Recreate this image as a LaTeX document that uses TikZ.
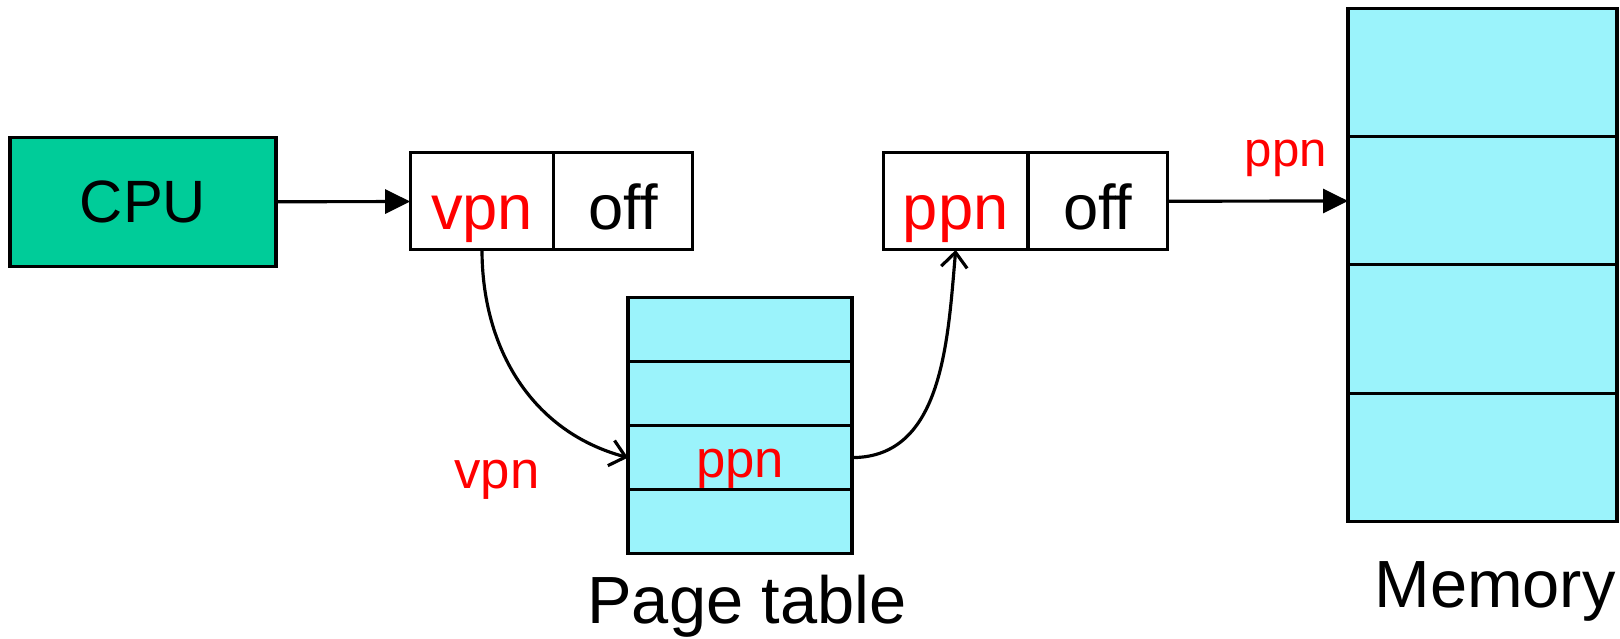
\documentclass[tikz,border=0pt]{standalone}
\usepackage{fontspec}
\setmainfont{Liberation Sans}
\usetikzlibrary{arrows.meta,positioning}

\definecolor{cpugreen}{RGB}{0,204,153}
\definecolor{memcyan}{RGB}{155,243,251}

\begin{document}
\begin{tikzpicture}[line width=0.9pt,
    cell/.style={draw,outer sep=0pt,minimum height=0.97cm,inner sep=0pt,
                 text height=0.6cm,text depth=0.04cm,font=\fontsize{18}{20}\selectfont},
    ptrow/.style={draw,outer sep=0pt,fill=memcyan,minimum width=2.24cm,minimum height=0.64cm,inner sep=0pt},
    memrow/.style={draw,outer sep=0pt,fill=memcyan,minimum width=2.69cm,minimum height=1.284cm,inner sep=0pt},
    tag/.style={text=red,font=\fontsize{15}{17}\selectfont},
    title/.style={font=\fontsize{19}{23}\selectfont},
    bus/.style={-{Triangle[length=0.25cm,width=0.24cm]}},
    lookup/.style={-{Straight Barb[length=0.15cm,width=0.26cm]}}]

  \useasboundingbox (0,0) rectangle (16.2,6.38);

  \node[draw,fill=cpugreen,minimum width=2.66cm,minimum height=1.29cm,
        font=\fontsize{17}{20}\selectfont] (cpu) at (1.43,4.36) {CPU};

  % virtual address
  \node[cell,minimum width=1.436cm,text=red] (vpn) at (4.82,4.366) {vpn};
  \node[cell,minimum width=1.384cm,right=0pt of vpn] (voff) {off};

  % physical address
  \node[cell,minimum width=1.446cm,text=red] (ppn) at (9.557,4.366) {ppn};
  \node[cell,minimum width=1.395cm,right=0pt of ppn] (poff) {off};

  % page table
  \node[ptrow] (pt1) at (7.40,3.084) {};
  \node[ptrow,below=0pt of pt1] (pt2) {};
  \node[ptrow,below=0pt of pt2,tag,text height=0.5cm,text depth=0.1cm] (pt3) {ppn};
  \node[ptrow,below=0pt of pt3] (pt4) {};
  \node[title] (ptname) at (7.47,0.32) {Page table};

  % memory
  \node[memrow] (mem1) at (14.825,5.657) {};
  \node[memrow,below=0pt of mem1] (mem2) {};
  \node[memrow,below=0pt of mem2] (mem3) {};
  \node[memrow,below=0pt of mem3] (mem4) {};
  \node[title] (memname) at (14.95,0.47) {Memory};

  \node[tag] (vpnlbl) at (4.97,1.58) {vpn};
  \node[tag,font=\fontsize{14}{16}\selectfont] (ppnlbl) at (12.86,4.80) {ppn};

  \draw[bus] (cpu) -- (vpn);
  \draw[bus] (poff) -- (mem2);
  \draw[lookup] (vpn.south) to[out=-90,in=165] (pt3.west);
  \draw[lookup] (pt3.east) to[out=0,in=-95] (ppn.south);

\end{tikzpicture}
\end{document}
